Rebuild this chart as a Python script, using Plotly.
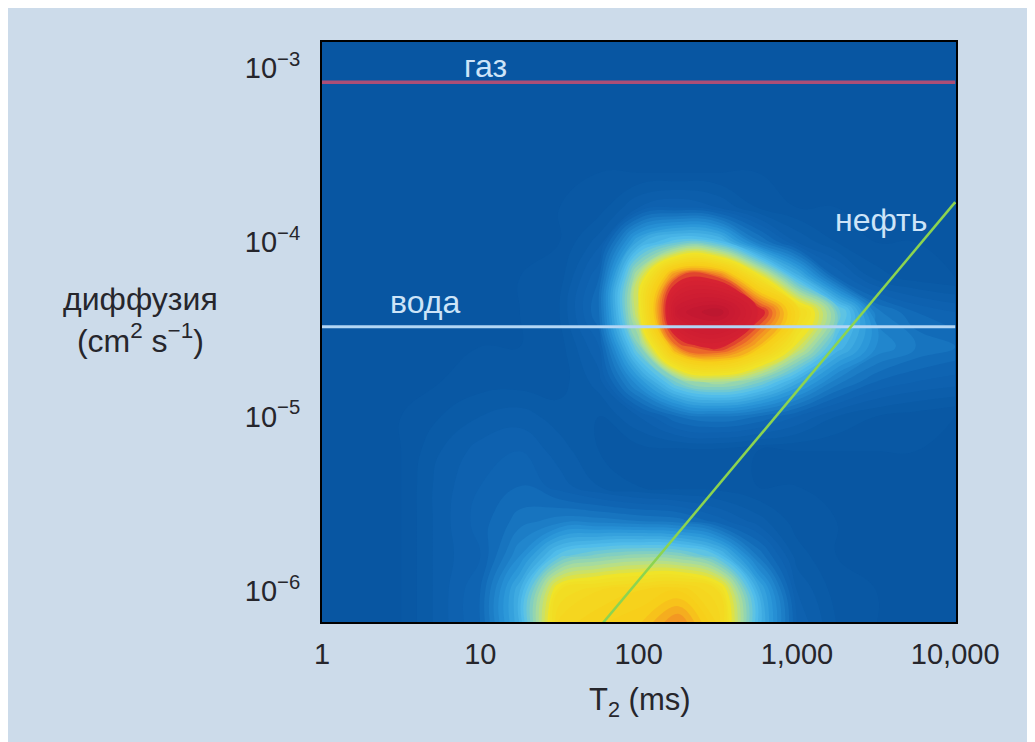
import plotly.graph_objects as go

# ---- data ----
log_t2_cols = [0, 0.25, 0.5, 0.75, 1.0, 1.25, 1.5, 1.75, 2.0, 2.25, 2.5, 2.75, 3.0, 3.25, 3.5, 3.75, 4.0]
log_d_rows = [-6.2, -6.0, -5.8, -5.6, -5.4, -5.2, -5.0, -4.8, -4.6, -4.4, -4.2, -4.0, -3.8, -3.6, -3.4, -3.2, -3.0, -2.8]

# intensity (0..1) of the T2-D map, one list per row (bottom -> top)
z_rows = [
    [0, 0, 0, 0.05, 0.10, 0.26, 0.55, 0.58, 0.60, 0.67, 0.56, 0.28, 0.08, 0.02, 0, 0, 0],   # -6.2
    [0, 0, 0, 0.05, 0.10, 0.26, 0.50, 0.54, 0.56, 0.58, 0.52, 0.26, 0.06, 0.01, 0, 0, 0],   # -6.0
    [0, 0, 0, 0.05, 0.08, 0.18, 0.31, 0.35, 0.37, 0.36, 0.30, 0.14, 0.03, 0, 0, 0, 0],      # -5.8
    [0, 0, 0, 0.05, 0.09, 0.13, 0.15, 0.15, 0.14, 0.13, 0.09, 0.05, 0.01, 0, 0, 0, 0],      # -5.6
    [0, 0, 0, 0.05, 0.08, 0.10, 0.07, 0.04, 0.02, 0.01, 0.01, 0, 0, 0, 0, 0, 0],           # -5.4
    [0, 0, 0, 0.04, 0.07, 0.08, 0.05, 0.02, 0.01, 0.01, 0.01, 0, 0, 0, 0, 0, 0],           # -5.2
    [0, 0, 0, 0.02, 0.04, 0.05, 0.03, 0.02, 0.06, 0.12, 0.14, 0.12, 0.08, 0.04, 0.02, 0.01, 0],  # -5.0
    [0, 0, 0, 0, 0.01, 0.01, 0.01, 0.05, 0.20, 0.35, 0.40, 0.35, 0.25, 0.15, 0.10, 0.08, 0.07],  # -4.8
    [0, 0, 0, 0, 0, 0, 0.01, 0.08, 0.35, 0.68, 0.74, 0.62, 0.45, 0.28, 0.18, 0.14, 0.12],  # -4.6
    [0, 0, 0, 0, 0, 0, 0.02, 0.12, 0.45, 0.85, 0.90, 0.76, 0.55, 0.35, 0.15, 0.10, 0.08],  # -4.4
    [0, 0, 0, 0, 0, 0, 0.01, 0.10, 0.42, 0.70, 0.70, 0.50, 0.28, 0.10, 0.03, 0.01, 0],     # -4.2
    [0, 0, 0, 0, 0, 0, 0, 0.05, 0.25, 0.32, 0.30, 0.15, 0.06, 0.02, 0, 0, 0],              # -4.0
    [0, 0, 0, 0, 0, 0, 0, 0.01, 0.06, 0.08, 0.06, 0.02, 0, 0, 0, 0, 0],                    # -3.8
    [0] * 17,  # -3.6
    [0] * 17,  # -3.4
    [0] * 17,  # -3.2
    [0] * 17,  # -3.0
    [0] * 17,  # -2.8
]

gas_d = 8.3e-4
water_d = 3.27e-5
oil_t2 = [50, 10000]
oil_d = [5.4e-7, 1.7e-4]
line_t2 = [1, 10000]

x_tickvals = [1, 10, 100, 1000, 10000]
x_ticktext = ["1", "10", "100", "1,000", "10,000"]
y_tickvals = [1e-6, 1e-5, 1e-4, 1e-3]
y_ticktext = ["10<sup>−6</sup>", "10<sup>−5</sup>", "10<sup>−4</sup>", "10<sup>−3</sup>"]

# ---- figure ----
t2_vals = [10 ** v for v in log_t2_cols]
d_vals = [10 ** v for v in log_d_rows]

colorscale = [
    [0.00, "rgb(8,86,162)"],
    [0.10, "rgb(16,102,180)"],
    [0.20, "rgb(40,148,215)"],
    [0.30, "rgb(85,192,236)"],
    [0.40, "rgb(175,222,150)"],
    [0.47, "rgb(240,228,40)"],
    [0.60, "rgb(248,205,25)"],
    [0.68, "rgb(240,120,40)"],
    [0.73, "rgb(215,35,50)"],
    [0.86, "rgb(200,25,50)"],
    [1.00, "rgb(150,15,40)"],
]

SANS = "Liberation Sans, Arial, sans-serif"
DARK = "rgb(38,38,44)"

fig = go.Figure()
fig.add_trace(go.Contour(
    x=t2_vals, y=d_vals, z=z_rows, zmin=0, zmax=1,
    colorscale=colorscale, showscale=False, hoverinfo="skip",
    contours=dict(start=0.0, end=1.0, size=0.02, coloring="fill", showlines=False),
    line=dict(width=0, smoothing=1.3),
))
fig.add_trace(go.Scatter(x=line_t2, y=[gas_d, gas_d], mode="lines",
                         line=dict(color="rgb(172,78,118)", width=3.5), hoverinfo="skip"))
fig.add_trace(go.Scatter(x=line_t2, y=[water_d, water_d], mode="lines",
                         line=dict(color="rgb(178,214,245)", width=3), hoverinfo="skip"))
fig.add_trace(go.Scatter(x=oil_t2, y=oil_d, mode="lines",
                         line=dict(color="rgb(140,212,80)", width=2.5), hoverinfo="skip"))

label_font = dict(family=SANS, size=32, color="rgb(205,228,248)")
fig.add_annotation(x=1.03, y=-2.985, xref="x", yref="y", text="газ", showarrow=False,
                   font=label_font, yanchor="middle")
fig.add_annotation(x=0.65, y=-4.34, xref="x", yref="y", text="вода", showarrow=False,
                   font=label_font, yanchor="middle")
fig.add_annotation(x=3.53, y=-3.874, xref="x", yref="y", text="нефть", showarrow=False,
                   font=label_font, yanchor="middle")

fig.add_annotation(x=-0.287, y=0.521, xref="paper", yref="paper", xanchor="center",
                   yanchor="middle",
                   text="диффузия<br>(cm<sup>2</sup> s<sup>−1</sup>)", showarrow=False,
                   font=dict(family=SANS, size=32, color=DARK), align="center")
fig.add_annotation(x=0.502, y=-0.138, xref="paper", yref="paper", xanchor="center",
                   text="T<sub>2</sub> (ms)", showarrow=False, yanchor="middle",
                   font=dict(family=SANS, size=31, color=DARK))

fig.update_xaxes(type="log", range=[0, 4.005], tickvals=x_tickvals, ticktext=x_ticktext,
                 showgrid=False, zeroline=False, showline=True, mirror=True,
                 linecolor="black", linewidth=2, ticks="", ticklabelstandoff=5,
                 tickfont=dict(family=SANS, size=29, color=DARK))
fig.update_yaxes(type="log", range=[-6.18, -2.85], tickvals=y_tickvals, ticktext=y_ticktext,
                 showgrid=False, zeroline=False, showline=True, mirror=True,
                 linecolor="black", linewidth=2, ticks="", ticklabelstandoff=14,
                 tickfont=dict(family=SANS, size=29, color=DARK))

fig.update_layout(
    width=1035, height=742,
    margin=dict(l=314, r=87, t=34, b=128),
    paper_bgcolor="rgb(204,219,234)",
    plot_bgcolor="rgb(8,86,162)",
    showlegend=False,
)

fig.write_html("out.html")
